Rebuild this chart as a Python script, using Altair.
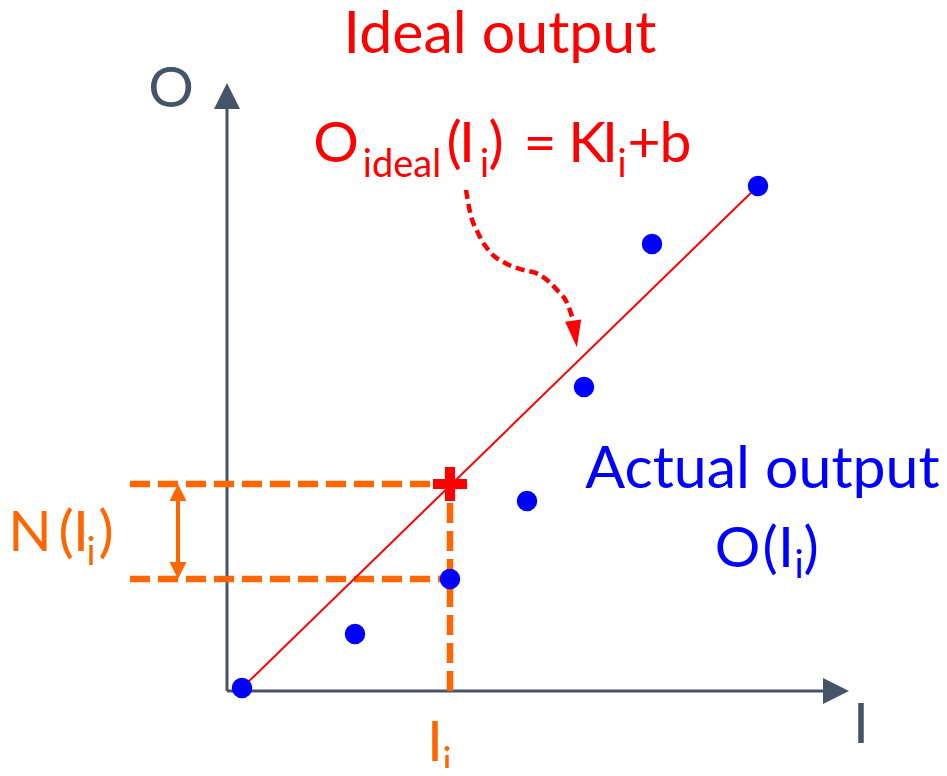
import altair as alt
import pandas as pd

# ---------------- data (data units: origin at axes crossing) ----------------
X_DOMAIN = [-21.9, 71.2]
Y_DOMAIN = [-7.7, 68.3]

# actual output points O(I)
act_I = [1.5, 12.8, 22.3, 30.0, 35.7, 42.5, 53.1]
act_O = [0.3, 5.7, 11.2, 19.0, 30.4, 44.7, 50.5]

# ideal straight line O = K*I + b
ideal_I = [1.5, 53.1]
ideal_O = [0.3, 50.5]

# highlighted input I_i
Ii = 22.3
O_ideal_i = 20.7
O_actual_i = 11.2
noise_left = -9.7
noise_arrow_x = -4.9

# axes
axis_end_x = 59.8
axis_end_y = 58.6
axis_head_x = 60.9
axis_head_y = 59.5

# curved annotation arrow path
curve_I = [23.9, 24.3, 25.1, 26.3, 27.8, 29.3, 31.3, 33.0, 34.1, 34.6]
curve_O = [50.1, 47.9, 45.8, 43.9, 42.8, 42.2, 41.6, 40.1, 38.6, 37.1]
curve_head = (34.8, 35.7)

# colors
SLATE = "#44546a"
RED = "#ff0000"
BLUE = "#0000ff"
ORANGE = "#ff6600"
FONT = "Lato"
BIG = 59
MAIN = 57
SUB = 38

# text pieces: (x, y, text, size, color)
texts = [
    (27.3, 63.8, "Ideal output", BIG, RED),
    # formula O_ideal(I_i) = KI_i+b
    (10.9, 52.9, "O", MAIN, RED),
    (17.5, 51.4, "ideal", SUB, RED),
    (22.7, 52.9, "(", MAIN, RED),
    (24.0, 52.9, "I", MAIN, RED),
    (25.75, 51.4, "i", SUB, RED),
    (26.9, 52.9, ")", MAIN, RED),
    (31.3, 52.9, "=", MAIN, RED),
    (36.0, 52.9, "K", MAIN, RED),
    (38.3, 52.9, "I", MAIN, RED),
    (39.5, 51.4, "i", SUB, RED),
    (41.7, 52.9, "+", MAIN, RED),
    (44.85, 52.9, "b", MAIN, RED),
    # axis names
    (-5.6, 58.4, "O", MAIN, SLATE),
    (63.4, -5.2, "I", MAIN, SLATE),
    # actual output
    (53.55, 20.3, "Actual output", BIG, BLUE),
    (51.05, 12.4, "O", MAIN, BLUE),
    (54.3, 12.4, "(", MAIN, BLUE),
    (55.9, 12.4, "I", MAIN, BLUE),
    (57.2, 11.3, "i", SUB, BLUE),
    (58.4, 12.4, ")", MAIN, BLUE),
    # N(I_i)
    (-19.7, 14.0, "N", MAIN, ORANGE),
    (-16.1, 14.0, "(", MAIN, ORANGE),
    (-14.6, 14.0, "I", MAIN, ORANGE),
    (-13.6, 12.6, "i", SUB, ORANGE),
    (-12.1, 14.0, ")", MAIN, ORANGE),
    # I_i under axis
    (20.8, -7.0, "I", MAIN, ORANGE),
    (22.0, -8.4, "i", SUB, ORANGE),
]

# ---------------- helpers ----------------
xs = alt.Scale(domain=X_DOMAIN, nice=False, zero=False)
ys = alt.Scale(domain=Y_DOMAIN, nice=False, zero=False)


def X(f="x"):
    return alt.X(f"{f}:Q", scale=xs, axis=None)


def Y(f="y"):
    return alt.Y(f"{f}:Q", scale=ys, axis=None)


def segs(rows):
    return pd.DataFrame(rows, columns=["x", "y", "x2", "y2"])


def rule_layer(rows, **kw):
    return alt.Chart(segs(rows)).mark_rule(**kw).encode(
        x=X(), y=Y(), x2="x2:Q", y2="y2:Q")


def sym_layer(x, y, shape, size, color, angle=0):
    return alt.Chart(pd.DataFrame({"x": [x], "y": [y]})).mark_point(
        shape=shape, size=size, filled=True, color=color, opacity=1,
        strokeWidth=0, angle=angle).encode(x=X(), y=Y())


UP = "M-1,1L1,1L0,-1Z"
DOWN = "M-1,-1L1,-1L0,1Z"
RIGHT = "M-1,-1L1,0L-1,1Z"
ARROW_DOWN = "M-0.6,-1L0.6,-1L0,1Z"
CROSS = ("M-1,-0.3L-0.3,-0.3L-0.3,-1L0.3,-1L0.3,-0.3L1,-0.3L1,0.3"
         "L0.3,0.3L0.3,1L-0.3,1L-0.3,0.3L-1,0.3Z")

layers = []

# axes
layers.append(rule_layer([(0, 0, 0, axis_end_y), (0, 0, axis_end_x, 0)],
                         color=SLATE, strokeWidth=3))
layers.append(sym_layer(0, axis_head_y, UP, 676, SLATE))
layers.append(sym_layer(axis_head_x, 0, RIGHT, 676, SLATE))

# orange dashed guides
layers.append(rule_layer([
    (noise_left, O_ideal_i, Ii, O_ideal_i),
    (noise_left, O_actual_i, Ii, O_actual_i),
    (Ii, 0, Ii, O_ideal_i),
], color=ORANGE, strokeWidth=6.5, strokeDash=[20, 8]))

# double arrow for N(I_i)
layers.append(rule_layer([(noise_arrow_x, O_actual_i + 1.2, noise_arrow_x, O_ideal_i - 1.2)],
                         color=ORANGE, strokeWidth=4))
layers.append(sym_layer(noise_arrow_x, O_ideal_i - 0.85, UP, 289, ORANGE))
layers.append(sym_layer(noise_arrow_x, O_actual_i + 0.85, DOWN, 289, ORANGE))

# ideal line
layers.append(alt.Chart(pd.DataFrame({"x": ideal_I, "y": ideal_O})).mark_line(
    color=RED, strokeWidth=2).encode(x=X(), y=Y()))

# actual points
layers.append(alt.Chart(pd.DataFrame({"x": act_I, "y": act_O})).mark_circle(
    size=420, color=BLUE, opacity=1).encode(x=X(), y=Y()))

# red cross at ideal output
layers.append(sym_layer(Ii, O_ideal_i, CROSS, 1156, RED))

# curved dashed arrow
layers.append(alt.Chart(pd.DataFrame({"x": curve_I, "y": curve_O,
                                      "o": list(range(len(curve_I)))})).mark_line(
    color=RED, strokeWidth=4.5, strokeDash=[9, 5], interpolate="monotone").encode(
    x=X(), y=Y(), order="o:Q"))
layers.append(sym_layer(curve_head[0], curve_head[1], ARROW_DOWN, 729, RED, angle=352))

# texts
tdf = pd.DataFrame(texts, columns=["x", "y", "t", "fs", "c"])
layers.append(alt.Chart(tdf).mark_text(
    font=FONT, align="center", baseline="alphabetic").encode(
    x=X(), y=Y(), text="t:N",
    size=alt.Size("fs:Q", scale=None),
    color=alt.Color("c:N", scale=None)))

chart = alt.layer(*layers).properties(
    width=931, height=760, padding=0,
    autosize=alt.AutoSizeParams(type="none"),
    background="white",
).configure_view(stroke=None)

chart.save("out.html", embed_options={"renderer": "svg", "actions": False})
